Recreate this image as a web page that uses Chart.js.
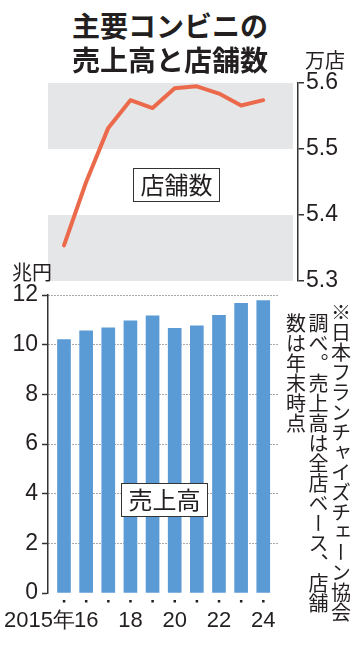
<!DOCTYPE html>
<html><head><meta charset="utf-8">
<script src="https://cdn.jsdelivr.net/npm/chart.js@4.4.1/dist/chart.umd.min.js"></script>
<style>
html,body{margin:0;padding:0;background:#fff;width:360px;height:645px;overflow:hidden;}
#wrap{position:relative;width:360px;height:645px;font-family:'Noto Sans CJK JP',sans-serif;color:#231f20;}
.abs{position:absolute;white-space:nowrap;}
canvas{position:absolute;left:0;}
#c1{top:60px;}
#c2{top:270px;}
.title{left:58px;width:224px;text-align:center;font-weight:bold;font-size:28px;line-height:34px;}
.box{border:1.5px solid #333;background:#fff;font-size:24px;line-height:30px;padding:0 6px;box-sizing:border-box;text-align:center;}
.unit{font-size:20px;line-height:22px;}
#note{top:313px;left:284px;height:320px;writing-mode:vertical-rl;font-size:20px;line-height:22.5px;text-indent:-11px;white-space:nowrap;letter-spacing:0px;}
</style></head>
<body><div id="wrap">
<canvas id="c1" width="360" height="240"></canvas>
<canvas id="c2" width="360" height="375"></canvas>
<div class="abs title" style="top:8px;">主要コンビニの</div>
<div class="abs title" style="top:42px;">売上高と店舗数</div>
<div class="abs unit" style="left:305px;top:49px;">万店</div>
<div class="abs unit" style="left:12px;top:261px;">兆円</div>
<div class="abs box" style="left:133px;top:168px;width:87px;height:34px;">店舗数</div>
<div class="abs box" style="left:121px;top:483px;width:87px;height:34px;">売上高</div>
<div class="abs" id="note">※日本フランチャイズチェーン協会<br>調べ。売上高は全店ベース、店舗<br>数は年末時点</div>
</div>
<script>
// ---- data ----
const years = ['2015','2016','2017','2018','2019','2020','2021','2022','2023','2024'];
const xTickLabels = ['2015年','16','','18','','20','','22','','24'];
const storesMan = [5.354, 5.450, 5.532, 5.574, 5.562, 5.592, 5.595, 5.584, 5.566, 5.574]; // 万店
const salesCho = [10.20, 10.56, 10.68, 10.96, 11.16, 10.66, 10.76, 11.18, 11.66, 11.78]; // 兆円
const storeTicks = [5.3, 5.4, 5.5, 5.6];
const salesTicks = [0, 2, 4, 6, 8, 10, 12];
const grayBands = [[5.5, 5.6], [5.3, 5.4]];

const NUMFONT = "'Liberation Sans Narrow','Liberation Sans',Arial,sans-serif";
const INK = '#231f20';
const XMIN = -0.7227;

// ---- top chart: stores ----
const bandPlugin = {
  id: 'bands',
  beforeDatasetsDraw(chart) {
    const {ctx, chartArea} = chart; const y = chart.scales.y;
    ctx.save(); ctx.fillStyle = '#e5e6e8';
    grayBands.forEach(([a, b]) => {
      const y1 = y.getPixelForValue(b), y2 = y.getPixelForValue(a);
      ctx.fillRect(chartArea.left, y1, chartArea.right - chartArea.left - 5, y2 - y1);
    });
    ctx.restore();
  }
};
new Chart(document.getElementById('c1'), {
  type: 'line',
  data: { datasets: [{ data: storesMan.map((v, i) => ({x: i, y: v})), borderColor: '#ec6a4c', borderWidth: 4, pointRadius: 0, tension: 0, borderCapStyle: 'round', borderJoinStyle: 'round' }] },
  options: {
    responsive: false, animation: false, events: [],
    layout: { padding: { left: 48, right: 0, top: 23, bottom: 19 } },
    plugins: { legend: { display: false }, tooltip: { enabled: false } },
    scales: {
      x: { type: 'linear', offset: false, min: XMIN, max: XMIN + 250 / 22.14, display: false },
      y: {
        position: 'right', min: 5.3, max: 5.6,
        afterBuildTicks: s => { s.ticks = storeTicks.map(v => ({value: v})); },
        afterFit: s => { s.width = 62; },
        ticks: { callback: v => Number(v).toFixed(1), color: INK, font: { family: NUMFONT, size: 23 }, padding: 2 },
        grid: { drawOnChartArea: false, tickLength: 6, color: '#333', lineWidth: 1.5 },
        border: { color: '#333', width: 1.5 }
      }
    }
  },
  plugins: [bandPlugin]
});

// ---- bottom chart: sales ----
const xLabelPlugin = {
  id: 'xlabels',
  afterDraw(chart) {
    const {ctx} = chart; const xs = chart.scales.x;
    ctx.save();
    ctx.fillStyle = INK;
    ctx.font = "22px " + NUMFONT;
    ctx.textBaseline = 'alphabetic';
    years.forEach((yr, i) => {
      const x = xs.getPixelForValue(i);
      ctx.fillRect(x - 1.2, chart.chartArea.bottom + 7, 2.5, 2.5);
      const t = xTickLabels[i];
      if (!t) return;
      if (i === 0) { ctx.textAlign = 'right'; ctx.fillText(t, x + 11, chart.chartArea.bottom + 34); }
      else { ctx.textAlign = 'center'; ctx.fillText(t, x, chart.chartArea.bottom + 34); }
    });
    ctx.restore();
  }
};
new Chart(document.getElementById('c2'), {
  type: 'bar',
  data: { datasets: [{ data: salesCho.map((v, i) => ({x: i, y: v})), backgroundColor: '#5b9bd5', barThickness: 13, borderWidth: 0 }] },
  options: {
    responsive: false, animation: false, events: [],
    layout: { padding: { left: 0, right: 82, top: 25, bottom: 52 } },
    plugins: { legend: { display: false }, tooltip: { enabled: false } },
    scales: {
      x: { type: 'linear', offset: false, grid: { offset: false }, min: XMIN, max: XMIN + 230 / 22.14, display: false },
      y: {
        position: 'left', min: 0, max: 12,
        afterBuildTicks: s => { s.ticks = salesTicks.map(v => ({value: v})); },
        afterFit: s => { s.width = 48; },
        ticks: { color: INK, font: { family: NUMFONT, size: 23 }, padding: 4 },
        grid: { drawOnChartArea: true, tickLength: 6, lineWidth: 1, tickWidth: 1.5, tickColor: '#333', tickBorderDash: [],
                color: c => (c.tick && c.tick.value === 0) ? 'rgba(0,0,0,0)' : '#555' },
        border: { color: '#333', width: 1.5, dash: [1, 2] }
      }
    }
  },
  plugins: [xLabelPlugin]
});
</script>
</body></html>
